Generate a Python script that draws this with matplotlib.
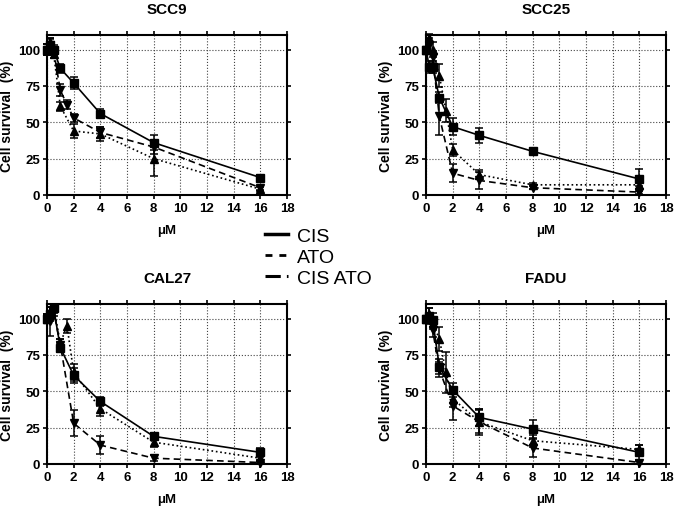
"""Cell survival curves for four HNSCC lines treated with CIS, ATO and CIS+ATO."""

import matplotlib
matplotlib.use("Agg")
import matplotlib.pyplot as plt
from matplotlib.lines import Line2D
import numpy as np

plt.rcParams["font.family"] = ["Liberation Sans", "DejaVu Sans"]

conc = [0, 0.25, 0.5, 1, 1.5, 2, 4, 8, 16]
nan = np.nan

# SCC9
scc9_cis = [100, 103, 100, 87, nan, 77, 56, 36, 12]
scc9_cis_err = [4, 4, 3, 3, nan, 4, 3, 5, 2]
scc9_ato = [100, 105, 97, 61, nan, 44, 42, 25, 4]
scc9_ato_err = [4, 3, 3, 3, nan, 5, 5, 12, 1.5]
scc9_combo = [100, 103, 99, 72, 62, 53, 43, 33, 5]
scc9_combo_err = [4, 5, 3, 4, 3, 3, 4, 5, 1.5]

# SCC25
scc25_cis = [100, 88, 88, 67, nan, 47, 41, 30, 11]
scc25_cis_err = [2, 4, 4, 4, nan, 6, 5, 2, 7]
scc25_ato = [100, 108, 100, 82, 58, 31, 14, 7, 7]
scc25_ato_err = [2, 3, 5, 8, 8, 4, 3, 1, 1]
scc25_combo = [100, 103, 95, 54, nan, 15, 10, 5, 2]
scc25_combo_err = [2, 5, 4, 13, nan, 6, 6, 1, 1]

# CAL27
cal27_cis = [100, 103, 107, 80, nan, 61, 43, 19, 8]
cal27_cis_err = [3, 5, 3, 3, nan, 5, 3, 2, 3]
cal27_ato = [100, 105, 108, 83, 95, 63, 38, 15, 4]
cal27_ato_err = [3, 3, 2, 3, 5, 6, 5, 3, 2]
cal27_combo = [100, 98, 105, 82, nan, 28, 13, 4, 1]
cal27_combo_err = [3, 10, 3, 4, nan, 9, 6, 2, 1]

# FADU
fadu_cis = [100, 102, 99, 67, nan, 51, 32, 24, 8]
fadu_cis_err = [2, 5, 5, 5, nan, 5, 6, 6, 5]
fadu_ato = [100, 103, 97, 86, 63, 45, 29, 16, 10]
fadu_ato_err = [2, 4, 4, 8, 14, 6, 8, 4, 3]
fadu_combo = [100, 100, 92, 65, nan, 40, 29, 11, 1]
fadu_combo_err = [2, 4, 5, 5, nan, 10, 9, 6, 1]

panels = [
    ("SCC9", (scc9_cis, scc9_cis_err), (scc9_ato, scc9_ato_err), (scc9_combo, scc9_combo_err)),
    ("SCC25", (scc25_cis, scc25_cis_err), (scc25_ato, scc25_ato_err), (scc25_combo, scc25_combo_err)),
    ("CAL27", (cal27_cis, cal27_cis_err), (cal27_ato, cal27_ato_err), (cal27_combo, cal27_combo_err)),
    ("FADU", (fadu_cis, fadu_cis_err), (fadu_ato, fadu_ato_err), (fadu_combo, fadu_combo_err)),
]

styles = [
    dict(ls="-", marker="s"),
    dict(ls=":", marker="^"),
    dict(ls=(0, (4, 2.5)), marker="v"),
]

W, H = 677, 510
fig = plt.figure(figsize=(W / 100, H / 100), dpi=100)

# axes boxes in pixels: left, top of plot area
boxes = [(47, 36), (426, 36), (47, 305), (426, 305)]
ax_w, ax_h = 240, 160

for (name, *series), (lx, ty) in zip(panels, boxes):
    ax = fig.add_axes([lx / W, 1 - (ty + ax_h) / H, ax_w / W, ax_h / H])
    x = np.array(conc, dtype=float)
    for (vals, errs), st in zip(series, styles):
        y = np.array(vals, dtype=float)
        e = np.array(errs, dtype=float)
        m = ~np.isnan(y)
        ax.errorbar(x[m], y[m], yerr=e[m], color="black", lw=1.2, ls=st["ls"],
                    marker=st["marker"], markersize=5.3, capsize=3,
                    elinewidth=1.1, capthick=1.1, clip_on=False, zorder=3)
    ax.set_xlim(0, 18)
    ax.set_ylim(0, 110)
    ax.set_xticks(np.arange(0, 19, 2))
    ax.set_yticks([0, 25, 50, 75, 100])
    ax.grid(True, ls=":", color="#444444", lw=0.8)
    ax.set_axisbelow(True)
    for sp in ax.spines.values():
        sp.set_linewidth(1.5)
    ax.tick_params(top=True, right=True, direction="out", length=3, width=1.2,
                   labelsize=9.5, pad=2)
    for lab in ax.get_xticklabels() + ax.get_yticklabels():
        lab.set_fontweight("bold")
    ax.set_title(name, fontsize=11, fontweight="bold", pad=16)
    ax.set_xlabel("μM", fontsize=9.5, fontweight="bold", labelpad=7)
    ax.set_ylabel("Cell survival  (%)", fontsize=10, fontweight="bold", labelpad=3)

handles = [
    Line2D([], [], color="black", lw=2.5, ls="-"),
    Line2D([], [], color="black", lw=2.0, ls=(0, (2.5, 2.5))),
    Line2D([], [], color="black", lw=2.2, ls=(0, (5, 2, 2.5, 2))),
]
fig.legend(handles, ["CIS", "ATO", "CIS ATO"], loc="center left",
           bbox_to_anchor=(265 / W, 1 - 258 / H), frameon=False, fontsize=14,
           handlelength=1.2, handletextpad=0.45, labelspacing=0.18,
           borderpad=0, borderaxespad=0)

fig.savefig("out.png", dpi=100)
